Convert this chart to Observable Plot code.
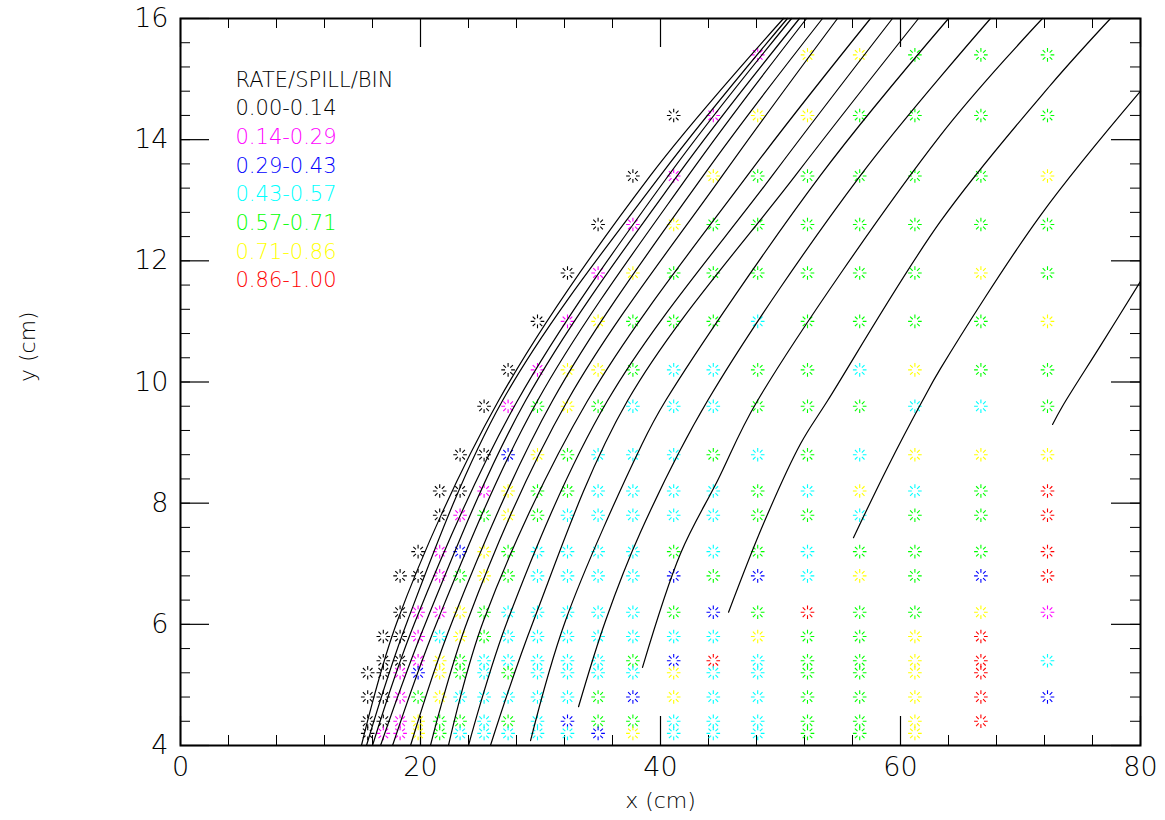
<!DOCTYPE html>
<html><head><meta charset="utf-8">
<script src="https://cdn.jsdelivr.net/npm/d3@7"></script>
<script src="https://cdn.jsdelivr.net/npm/@observablehq/plot@0.6"></script>
<style>
body{margin:0;background:#fff}
</style>
</head><body><div id="chart"></div>
<script>
// ---- data ----
const xCols = [15.6, 16.9, 18.3, 19.8, 21.6, 23.3, 25.3, 27.3, 29.75, 32.25, 34.8, 37.7, 41.1, 44.4, 48.1, 52.25, 56.6, 61.2, 66.7, 72.25];
const yRows = [15.4, 14.4, 13.4, 12.6, 11.8, 11.0, 10.2, 9.6, 8.8, 8.2, 7.8, 7.2, 6.8, 6.2, 5.8, 5.4, 5.2, 4.8, 4.4, 4.2];
// one string per row, one letter per column: k m b c g y r = rate class, "." = empty bin
const rowClasses = [
  "..............myyggg",
  "............kmyygggg",
  "...........kmygggggy",
  "..........kmyggggggg",
  ".........kmyggggggyg",
  "........kmygggcggggy",
  ".......kmyygccggcygg",
  "......kmgygcccgggccg",
  ".....kkbygcccgcgcyyy",
  "....kkmyggccccgcycgr",
  "....kmgygcccccggcggr",
  "...kmbygccccgcgcgggr",
  "..kkmgygccccbgbcygbr",
  "..kmmygcccccgbgrggym",
  ".kkmcygcccccccyggyr.",
  ".kkmygcccccgbrcggyrc",
  "kkmbygcgccccyccggyr.",
  "kkmgycccccgbyccggyrb",
  "kkmyggcgcbggcccggyr.",
  "kmmygcccccbycccggy.."
];
const classCodes = ["k", "m", "b", "c", "g", "y", "r"];
const classLabels = ["0.00-0.14", "0.14-0.29", "0.29-0.43", "0.43-0.57", "0.57-0.71", "0.71-0.86", "0.86-1.00"];
const classColors = ["#000000", "#ff00ff", "#0000ff", "#00ffff", "#00ff00", "#ffff00", "#ff0000"];
const legendTitle = "RATE/SPILL/BIN";

// black curves, points as [x cm, y cm]
const curves = [
  [[15.08,4.0],[18.08,6.06],[26.5,9.69],[39.17,13.41],[50.25,16]],
  [[15.5,4.0],[18.92,6.06],[26.83,9.69],[40.0,13.41],[50.58,16]],
  [[16.0,4.0],[19.58,6.06],[28.08,9.69],[40.67,13.41],[50.92,16]],
  [[16.67,4.0],[20.5,6.06],[28.75,9.69],[41.42,13.41],[51.58,16]],
  [[17.67,4.0],[21.42,6.06],[29.75,9.69],[42.33,13.41],[52.17,16]],
  [[19.17,4.0],[22.67,6.06],[31.0,9.69],[43.58,13.41],[53.5,16]],
  [[20.83,4.0],[23.92,6.06],[32.25,9.69],[45.17,13.41],[54.75,16]],
  [[22.33,4.0],[25.25,6.06],[33.92,9.69],[47.25,13.41],[57.5,16]],
  [[24.0,4.0],[27.25,6.06],[35.58,9.69],[49.33,13.41],[59.33,16]],
  [[25.83,4.0],[29.42,6.06],[37.25,9.69],[51.25,13.41],[61.5,16]],
  [[29.17,4.08],[32.08,6.06],[38.33,8.92],[40.42,9.69],[53.33,13.41],[64.0,16]],
  [[33.17,4.64],[35.42,6.06],[38.33,7.52],[43.92,9.69],[56.67,13.41],[67.5,16]],
  [[38.5,5.29],[41.67,7.17],[44.75,8.37],[48.08,9.69],[63.33,14.07],[71.83,16]],
  [[45.67,6.2],[48.58,7.66],[51.67,8.98],[53.92,9.69],[63.33,12.65],[72.5,14.9],[77.5,16]],
  [[56.08,7.43],[58.92,8.59],[61.83,9.69],[63.33,10.22],[71.67,12.75],[80,14.8]],
  [[72.67,9.3],[73.5,9.6],[76.67,10.6],[80,11.66]]
];
const xMajor = [0, 20, 40, 60, 80];
const xMinor = d3.range(0, 80.01, 4);
const yMajor = [4, 6, 8, 10, 12, 14, 16];
const yMinor = d3.range(4, 16.01, 0.4);

// ---- build tables ----
const points = [];
rowClasses.forEach((s, i) => {
  [...s].forEach((c, j) => {
    if (c !== ".") points.push({x: xCols[j], y: yRows[i], cls: classCodes.indexOf(c)});
  });
});
const curveRows = curves.flatMap((pts, id) => pts.map(([x, y]) => ({id, x, y})));

// asterisk marker: 8 short rays with an open centre
const asterisk = {
  draw(context, size) {
    const R = Math.sqrt(size / Math.PI);
    const r0 = R * 0.45;
    for (let k = 0; k < 8; ++k) {
      const a = k * Math.PI / 4;
      context.moveTo(r0 * Math.cos(a), r0 * Math.sin(a));
      context.lineTo(R * Math.cos(a), R * Math.sin(a));
    }
  }
};

const W = 1165, H = 820;
const mt = 18, mb = 75, ml = 180, mr = 25;
const ph = H - mt - mb, pw = W - ml - mr;
const minorLen = 10, majorLen = 29;

const legendMarks = [legendTitle, ...classLabels].map((t, i) =>
  Plot.text([t], {
    frameAnchor: "top-left", textAnchor: "start", lineAnchor: "bottom",
    dx: 55, dy: 68 + i * 28.7, fontSize: 21,
    fill: i === 0 ? "#000000" : classColors[i - 1]
  })
);

const chart = Plot.plot({
  width: W, height: H,
  marginTop: mt, marginBottom: mb, marginLeft: ml, marginRight: mr,
  style: {fontFamily: "'DejaVu Sans', sans-serif", fontWeight: 200, background: "#fff"},
  x: {domain: [0, 80]},
  y: {domain: [4, 16]},
  marks: [
    // ticks, pointing inward on all four sides
    Plot.ruleX(xMinor, {insetTop: ph - minorLen, stroke: "#000", strokeWidth: 1}),
    Plot.ruleX(xMinor, {insetBottom: ph - minorLen, stroke: "#000", strokeWidth: 1}),
    Plot.ruleX(xMajor, {insetTop: ph - majorLen, stroke: "#000", strokeWidth: 1.2}),
    Plot.ruleX(xMajor, {insetBottom: ph - majorLen, stroke: "#000", strokeWidth: 1.2}),
    Plot.ruleY(yMinor, {insetRight: pw - minorLen, stroke: "#000", strokeWidth: 1}),
    Plot.ruleY(yMinor, {insetLeft: pw - minorLen, stroke: "#000", strokeWidth: 1}),
    Plot.ruleY(yMajor, {insetRight: pw - majorLen, stroke: "#000", strokeWidth: 1.2}),
    Plot.ruleY(yMajor, {insetLeft: pw - majorLen, stroke: "#000", strokeWidth: 1.2}),
    Plot.dot(points, {
      x: "x", y: "y", r: 6.8, symbol: asterisk,
      stroke: d => classColors[d.cls], strokeWidth: 1.1, fill: "none"
    }),
    Plot.line(curveRows, {x: "x", y: "y", z: "id", curve: "catmull-rom", stroke: "#000", strokeWidth: 1.2}),
    Plot.frame({stroke: "#000", strokeWidth: 2}),
    Plot.axisX(xMajor, {tickSize: 0, tickPadding: 11, fontSize: 27, label: null, tickFormat: d => String(d)}),
    Plot.axisY(yMajor, {tickSize: 0, tickPadding: 12, fontSize: 27, label: null, tickFormat: d => String(d)}),
    Plot.text(["x (cm)"], {frameAnchor: "bottom", dy: 62, fontSize: 22, fill: "#000"}),
    Plot.text(["y (cm)"], {frameAnchor: "left", dx: -153, rotate: -90, fontSize: 22, fill: "#000"}),
    ...legendMarks
  ]
});
document.getElementById("chart").appendChild(chart);
</script>
</body></html>
